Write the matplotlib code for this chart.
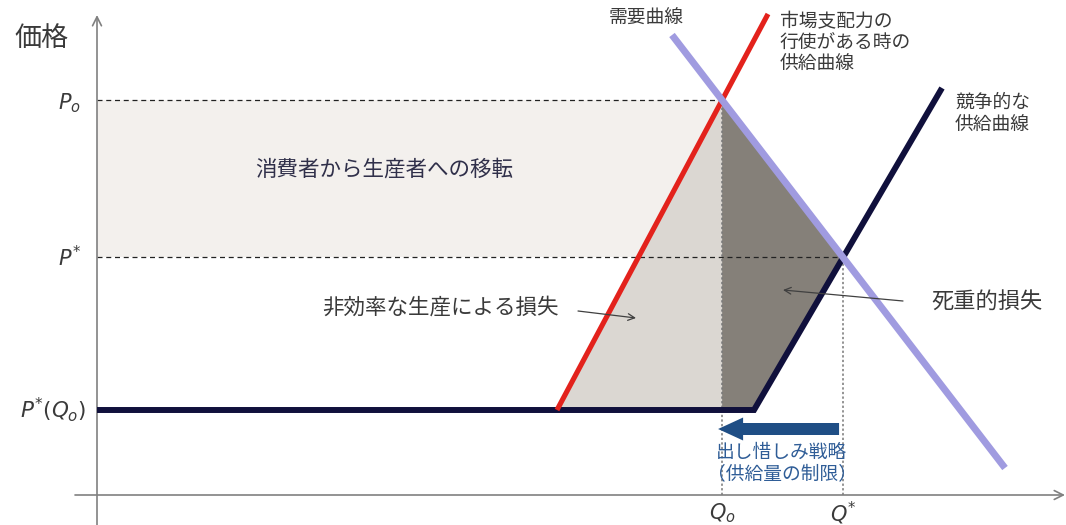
import numpy as np
import matplotlib
matplotlib.use("Agg")
import matplotlib.pyplot as plt
from matplotlib.patches import Polygon, FancyArrow

plt.rcParams['font.family'] = ['Noto Sans CJK JP', 'DejaVu Sans']
plt.rcParams['mathtext.fontset'] = 'dejavusans'

# Curves (quantity, price) endpoints
demand_q = [575, 908]
demand_p = [460, 27]
monopoly_q = [460, 671]
monopoly_p = [85, 481]
competitive_q = [0, 657, 845]
competitive_p = [85, 85, 407]

# Labels
price_label = "価格"
demand_label = "需要曲線"
monopoly_label = "市場支配力の\n行使がある時の\n供給曲線"
competitive_label = "競争的な\n供給曲線"
transfer_label = "消費者から生産者への移転"
inefficiency_label = "非効率な生産による損失"
deadweight_label = "死重的損失"
strategy_label = "出し惜しみ戦略\n（供給量の制限）"


def line_at(q0, p0, q1, p1):
    slope = (p1 - p0) / (q1 - q0)
    return slope, p0 - slope * q0


def intersect(a, b):
    (m1, c1), (m2, c2) = a, b
    q = (c2 - c1) / (m1 - m2)
    return q, m1 * q + c1


dem = line_at(demand_q[0], demand_p[0], demand_q[1], demand_p[1])
mon = line_at(monopoly_q[0], monopoly_p[0], monopoly_q[1], monopoly_p[1])
comp = line_at(competitive_q[1], competitive_p[1], competitive_q[2], competitive_p[2])
Qo, Po = intersect(dem, mon)
Qs, Ps = intersect(dem, comp)
Pc = competitive_p[0]
kink_q = competitive_q[1]

fig = plt.figure(figsize=(10.66, 5.25), dpi=100)
ax = fig.add_axes([0, 0, 1, 1])
ax.set_xlim(-97, 969)
ax.set_ylim(-30, 495)
ax.axis('off')

# Shaded areas
ax.add_patch(Polygon([(0, Ps), (Qo, Ps), (Qo, Po), (0, Po)], closed=True,
                     facecolor='#f3f0ed', edgecolor='none', zorder=1))
ax.add_patch(Polygon([(monopoly_q[0], Pc), (Qo, Po), (Qo, Pc)], closed=True,
                     facecolor='#dbd7d2', edgecolor='none', zorder=2))
ax.add_patch(Polygon([(Qo, Po), (Qs, Ps), (kink_q, Pc), (Qo, Pc)], closed=True,
                     facecolor='#858079', edgecolor='none', zorder=2))

# Guide lines
ax.plot([0, Qo], [Po, Po], color='#222222', lw=0.9, ls=(0, (4, 3)), zorder=3)
ax.plot([0, Qs], [Ps, Ps], color='#222222', lw=0.9, ls=(0, (4, 3)), zorder=3)
ax.plot([Qo, Qo], [0, Po], color='#777777', lw=1.1, ls=(0, (1.5, 1.5)), zorder=3)
ax.plot([Qs, Qs], [0, Ps], color='#777777', lw=1.1, ls=(0, (1.5, 1.5)), zorder=3)

# Axes with arrowheads
ax.annotate('', xy=(0, 480), xytext=(0, -32),
            arrowprops=dict(arrowstyle='->', color='#808080', lw=1.2,
                            mutation_scale=16, shrinkA=0, shrinkB=0), zorder=4)
ax.annotate('', xy=(968, 0), xytext=(-22, 0),
            arrowprops=dict(arrowstyle='->', color='#808080', lw=1.2,
                            mutation_scale=16, shrinkA=0, shrinkB=0), zorder=4)

# Supply and demand curves
ax.plot(competitive_q, competitive_p, color='#10103c', lw=4.3,
        solid_capstyle='butt', solid_joinstyle='miter', zorder=5)
ax.plot(monopoly_q, monopoly_p, color='#e3221c', lw=3.7,
        solid_capstyle='butt', zorder=6)
ax.plot(demand_q, demand_p, color='#a09be0', lw=5.0,
        solid_capstyle='butt', zorder=7)

# Output restriction arrow
ax.add_patch(FancyArrow(Qs - 4, 66, -(Qs - 4 - (Qo - 4)), 0, width=12,
                        head_width=23, head_length=25,
                        length_includes_head=True, color='#1f4e85',
                        lw=0, zorder=8))

# Pointer arrows
arrow_kw = dict(arrowstyle='->', color='#404040', lw=0.9,
                mutation_scale=12, shrinkA=0, shrinkB=0)
ax.annotate('', xy=(539, 177), xytext=(481, 184), arrowprops=arrow_kw, zorder=8)
ax.annotate('', xy=(686, 205), xytext=(806, 194), arrowprops=arrow_kw, zorder=8)

# Axis labels
txt = '#3a3a3a'
ax.text(-55, 457, price_label, fontsize=19.5, color=txt, ha='center', va='center')
ax.text(-16, 392, r'$P_o$', fontsize=15, color=txt, ha='right', va='center')
ax.text(-16, 236, r'$P^{*}$', fontsize=15, color=txt, ha='right', va='center')
ax.text(-11, 85, r'$P^{*}(Q_o)$', fontsize=15.5, color=txt, ha='right', va='center')
ax.text(Qo, -18, r'$Q_o$', fontsize=15, color=txt, ha='center', va='center')
ax.text(Qs, -18, r'$Q^{*}$', fontsize=15, color=txt, ha='center', va='center')

# Curve and area labels
ax.text(549, 477, demand_label, fontsize=13.5, color=txt, ha='center', va='center')
ax.text(683, 452, monopoly_label, fontsize=13.5, color=txt, ha='left', va='center',
        linespacing=1.0)
ax.text(858, 381, competitive_label, fontsize=13.5, color=txt, ha='left', va='center',
        linespacing=1.1)
ax.text(287, 325, transfer_label, fontsize=15.5, color='#30304a', ha='center', va='center')
ax.text(343, 187, inefficiency_label, fontsize=15.5, color=txt, ha='center', va='center')
ax.text(890, 194, deadweight_label, fontsize=16, color=txt, ha='center', va='center')
ax.text(685, 32, strategy_label, fontsize=13.5, color='#2f5d97', ha='center', va='center',
        linespacing=1.05)

fig.savefig('out.png', dpi=100)
